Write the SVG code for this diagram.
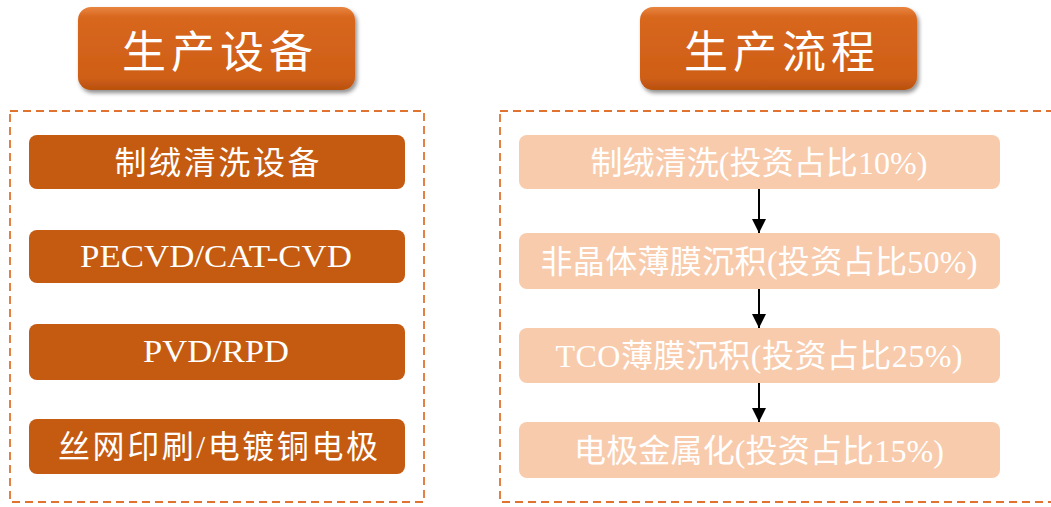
<svg xmlns="http://www.w3.org/2000/svg" width="1051" height="507" viewBox="0 0 1051 507">
<defs>
<linearGradient id="tg" x1="0" y1="0" x2="0" y2="1">
<stop offset="0" stop-color="#E8853F"/>
<stop offset="0.12" stop-color="#D8671F"/>
<stop offset="0.85" stop-color="#CF5F16"/>
<stop offset="1" stop-color="#B9510F"/>
</linearGradient>
<filter id="sh" x="-10%" y="-20%" width="125%" height="150%">
<feGaussianBlur in="SourceAlpha" stdDeviation="2"/>
<feOffset dx="2" dy="3"/>
<feComponentTransfer><feFuncA type="linear" slope="0.45"/></feComponentTransfer>
<feMerge><feMergeNode/><feMergeNode in="SourceGraphic"/></feMerge>
</filter>
<marker id="ah" markerWidth="14" markerHeight="14" viewBox="0 0 14 14" refX="14" refY="7" orient="auto" markerUnits="userSpaceOnUse">
<path d="M0,0 L14,7 L0,14 Z" fill="#000"/>
</marker>
</defs>
<style>
.title{fill:url(#tg);filter:url(#sh)}
.ttxt{font-family:"Liberation Serif","Noto Sans CJK SC",serif;font-size:44px;fill:#fff;text-anchor:middle}
.frame{fill:none;stroke:#E07330;stroke-width:1.8;stroke-dasharray:8 5}
.dark{fill:#C55A11}
.light{fill:#F8CBAD}
.ntxt{font-family:"Liberation Serif","Noto Sans CJK SC",serif;font-size:32px;fill:#fff;text-anchor:middle}
.conn{stroke:#000;stroke-width:2;fill:none;marker-end:url(#ah)}
</style>
<rect width="1051" height="507" fill="#fff"/>
<g id="title-left">
<rect class="title" x="78" y="7" width="277" height="83" rx="13"/>
<text class="ttxt" x="220" y="68" letter-spacing="5">生产设备</text>
</g>
<g id="title-right">
<rect class="title" x="640" y="7" width="277" height="83" rx="13"/>
<text class="ttxt" x="782" y="68" letter-spacing="5">生产流程</text>
</g>
<rect class="frame" x="10" y="111" width="414" height="391"/>
<rect class="frame" x="500" y="111" width="570" height="391"/>
<g id="eq1">
<rect class="dark" x="29" y="135" width="376" height="54" rx="8"/>
<text class="ntxt" x="217" y="174" textLength="205" lengthAdjust="spacing">制绒清洗设备</text>
</g>
<g id="eq2">
<rect class="dark" x="29" y="230" width="376" height="53" rx="8"/>
<text class="ntxt" x="216" y="267" textLength="272" lengthAdjust="spacingAndGlyphs">PECVD/CAT-CVD</text>
</g>
<g id="eq3">
<rect class="dark" x="29" y="324" width="376" height="56" rx="8"/>
<text class="ntxt" x="216" y="362" textLength="146" lengthAdjust="spacingAndGlyphs">PVD/RPD</text>
</g>
<g id="eq4">
<rect class="dark" x="29" y="419" width="376" height="55" rx="8"/>
<text class="ntxt" x="218" y="458" textLength="320" lengthAdjust="spacing">丝网印刷/电镀铜电极</text>
</g>
<g id="p1">
<rect class="light" x="519" y="135" width="481" height="54" rx="8"/>
<text class="ntxt" x="759" y="174" textLength="337" lengthAdjust="spacing">制绒清洗(投资占比10%)</text>
</g>
<g id="p2">
<rect class="light" x="519" y="233" width="481" height="56" rx="8"/>
<text class="ntxt" x="759" y="273" textLength="437" lengthAdjust="spacing">非晶体薄膜沉积(投资占比50%)</text>
</g>
<g id="p3">
<rect class="light" x="519" y="328" width="481" height="55" rx="8"/>
<text class="ntxt" x="759" y="367" textLength="407" lengthAdjust="spacing">TCO薄膜沉积(投资占比25%)</text>
</g>
<g id="p4">
<rect class="light" x="519" y="422" width="481" height="56" rx="8"/>
<text class="ntxt" x="759" y="462" textLength="370" lengthAdjust="spacing">电极金属化(投资占比15%)</text>
</g>
<g id="connectors">
<line class="conn" x1="759" y1="189" x2="759" y2="233"/>
<line class="conn" x1="759" y1="289" x2="759" y2="328"/>
<line class="conn" x1="759" y1="383" x2="759" y2="422"/>
</g>
</svg>
